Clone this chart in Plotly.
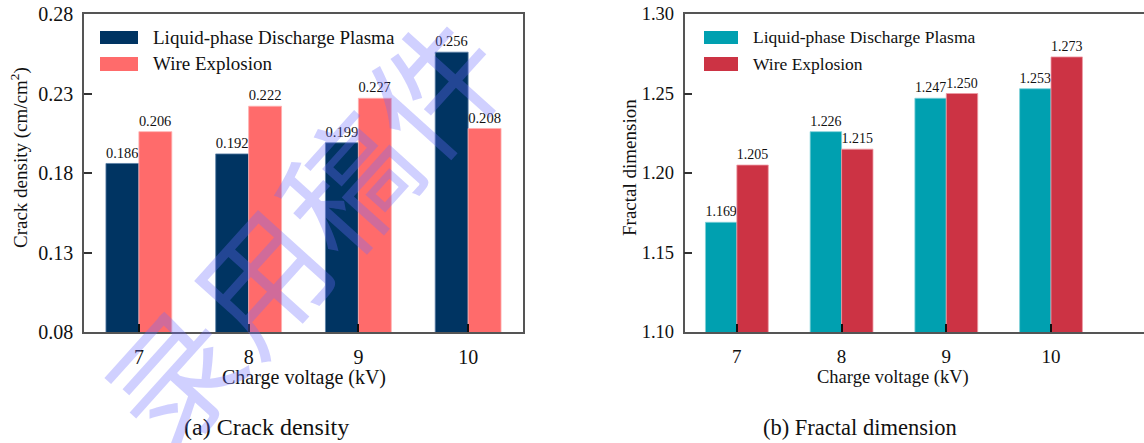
import plotly.graph_objects as go

# ---- data ----
voltage = ["7", "8", "9", "10"]
series_names = ["Liquid-phase Discharge Plasma", "Wire Explosion"]
crack_lpdp = [0.186, 0.192, 0.199, 0.256]
crack_we = [0.206, 0.222, 0.227, 0.208]
fractal_lpdp = [1.169, 1.226, 1.247, 1.253]
fractal_we = [1.205, 1.215, 1.250, 1.273]
crack_ticks = [0.08, 0.13, 0.18, 0.23, 0.28]
fractal_ticks = [1.10, 1.15, 1.20, 1.25, 1.30]

W, H = 1144, 443
SERIF = "Liberation Serif, Times New Roman, serif"

def px(x):
    return x / W

def py(y):
    return 1 - y / H

colors_a = ["#003462", "#FF6B6B"]
colors_b = ["#00A0B0", "#CC3344"]
edge_a = ["#5a7fa6", "#ffb0b0"]
edge_b = ["#7fd0d8", "#ee9aa4"]

fig = go.Figure()

for name, vals, c, e in zip(series_names, [crack_lpdp, crack_we], colors_a, edge_a):
    fig.add_trace(go.Bar(
        x=voltage, y=vals, name=name, xaxis="x", yaxis="y",
        marker=dict(color=c, line=dict(color=e, width=0.8)),
        texttemplate="%{y:.3f}", textposition="outside", cliponaxis=False,
        textfont=dict(family=SERIF, size=15, color="#111"),
        showlegend=False,
    ))

for name, vals, c, e in zip(series_names, [fractal_lpdp, fractal_we], colors_b, edge_b):
    fig.add_trace(go.Bar(
        x=voltage, y=vals, name=name, xaxis="x2", yaxis="y2",
        marker=dict(color=c, line=dict(color=e, width=0.8)),
        texttemplate="%{y:.3f}", textposition="outside", cliponaxis=False,
        textfont=dict(family=SERIF, size=14, color="#111"),
        showlegend=False,
    ))

axis_common = dict(
    showline=True, linecolor="#555", linewidth=1.5, automargin=False,
    ticks="inside", ticklen=8, showgrid=False, zeroline=False,
)

fig.update_layout(
    template="none",
    width=W, height=H,
    margin=dict(l=0, r=0, t=0, b=0, autoexpand=False),
    paper_bgcolor="white", plot_bgcolor="white",
    barmode="group", bargap=0.4, bargroupgap=0,
    xaxis=dict(
        type="category",
        domain=[px(84), px(523)], anchor="y", range=[-0.5, 3.5],
        mirror=True, tickcolor="#111", tickwidth=2,
        tickfont=dict(family=SERIF, size=20, color="#111"),
        ticklabelstandoff=6, **axis_common,
    ),
    yaxis=dict(
        domain=[py(332), py(14)], anchor="x", range=[0.08, 0.28],
        tickvals=crack_ticks, tickformat=".2f", mirror=True,
        tickcolor="#333", tickwidth=1.5,
        tickfont=dict(family=SERIF, size=20, color="#111"),
        ticklabelstandoff=5, **axis_common,
    ),
    xaxis2=dict(
        type="category",
        domain=[px(684.5), 1.0], anchor="y2", range=[-0.5, 3.888],
        mirror=True, tickcolor="#111", tickwidth=2,
        tickfont=dict(family=SERIF, size=19, color="#111"),
        ticklabelstandoff=6, **axis_common,
    ),
    yaxis2=dict(
        domain=[py(332), py(14)], anchor="x2", range=[1.10, 1.30],
        tickvals=fractal_ticks, tickformat=".2f", mirror=False,
        tickcolor="#333", tickwidth=1.5,
        tickfont=dict(family=SERIF, size=18.5, color="#111"),
        ticklabelstandoff=5, **axis_common,
    ),
)

annotations = []
shapes = []

def label(text, x, y, size, angle=0, xanchor="center"):
    annotations.append(dict(
        text=text, x=px(x), y=py(y), xref="paper", yref="paper",
        showarrow=False, textangle=angle, xanchor=xanchor, yanchor="middle",
        font=dict(family=SERIF, size=size, color="#111"),
    ))

# axis titles and captions
label("Charge voltage (kV)", 304, 377, 20)
label("Charge voltage (kV)", 893, 377, 18.5)
label("Crack density (cm/cm<sup>2</sup>)", 19, 158, 19, angle=-90)
label("Fractal dimension", 629, 168, 19, angle=-90)
label("(a) Crack density", 266, 427, 24)
label("(b) Fractal dimension", 860, 427, 22.5)

# manual legends (wide swatches)
def legend_item(x0, x1, y0, y1, color, text, tx, size):
    shapes.append(dict(type="rect", xref="paper", yref="paper",
                       x0=px(x0), x1=px(x1), y0=py(y1), y1=py(y0),
                       fillcolor=color, line=dict(width=0)))
    label(text, tx, (y0 + y1) / 2, size, xanchor="left")

legend_item(100, 138, 31, 44, colors_a[0], series_names[0], 151, 19)
legend_item(100, 138, 57, 71, colors_a[1], series_names[1], 151, 19)
legend_item(704, 738, 31, 44, colors_b[0], series_names[0], 751, 17.5)
legend_item(704, 738, 57, 71, colors_b[1], series_names[1], 751, 17.5)

# watermark
annotations.append(dict(
    text="录用稿件", x=px(300), y=py(228), xref="paper", yref="paper",
    showarrow=False, textangle=-48, xanchor="center", yanchor="middle",
    font=dict(family="Noto Sans CJK SC", size=130, color="rgba(110,110,255,0.32)"),
))

fig.update_layout(annotations=annotations, shapes=shapes)

fig.write_html("out.html", config={"displayModeBar": False},
               post_script="document.body.style.margin='0px';")
